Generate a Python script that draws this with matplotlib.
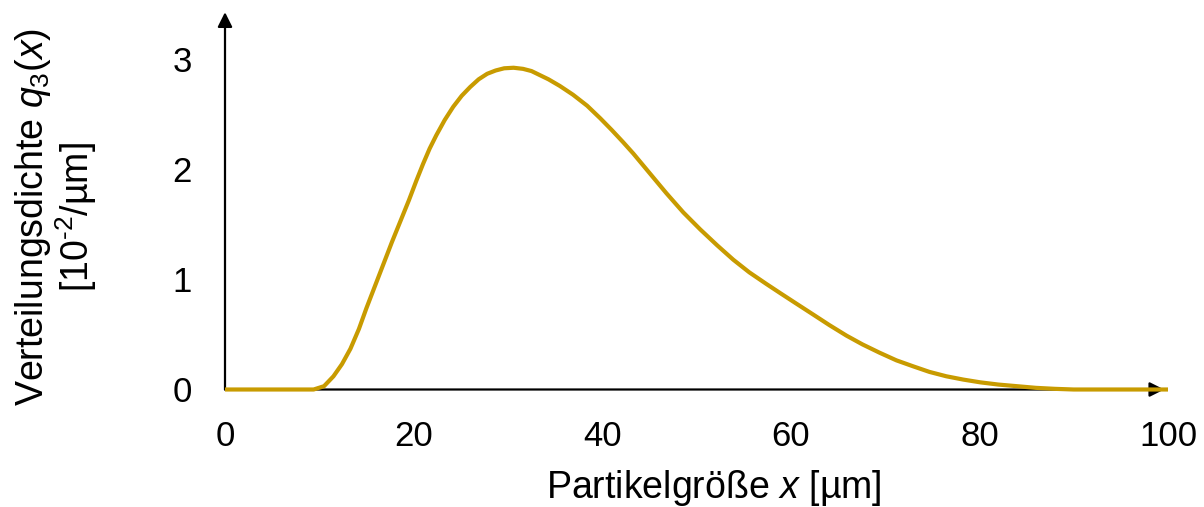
import matplotlib
matplotlib.use("Agg")
import matplotlib.pyplot as plt

# Werte
partikelgroesse = [0, 5, 9.4, 10.5, 11.5, 12.4, 13.3, 14.2, 15.0, 15.9, 16.8, 17.7,
                   18.6, 19.5, 20.3, 21.0, 21.7, 22.4, 23.3, 24.2, 25.1, 26.0,
                   26.9, 27.8, 28.7, 29.6, 30.6, 31.6, 32.5, 33.1, 34.3, 35.5,
                   36.9, 38.4, 39.8, 41.0, 42.2, 43.3, 45.0, 46.8, 48.6, 50.4,
                   52.2, 53.9, 55.6, 57.4, 58.9, 60.6, 62.4, 64.1, 65.9, 67.6,
                   69.4, 71.2, 73.0, 74.7, 76.5, 78.3, 80.1, 82.0, 84.0, 86.0,
                   88.0, 90.0, 95.0, 100]
dichte = [0, 0, 0, 0.03, 0.12, 0.23, 0.37, 0.55, 0.74, 0.94, 1.14, 1.34,
          1.53, 1.72, 1.90, 2.05, 2.19, 2.31, 2.45, 2.57, 2.67, 2.75,
          2.82, 2.87, 2.90, 2.92, 2.925, 2.915, 2.895, 2.87, 2.82, 2.76,
          2.68, 2.58, 2.465, 2.36, 2.25, 2.145, 1.97, 1.785, 1.61, 1.455,
          1.31, 1.18, 1.065, 0.96, 0.875, 0.78, 0.68, 0.585, 0.49, 0.41,
          0.335, 0.265, 0.21, 0.16, 0.12, 0.09, 0.065, 0.045, 0.03, 0.015,
          0.006, 0, 0, 0]

x_ticks = [0, 20, 40, 60, 80, 100]
y_ticks = [0, 1, 2, 3]

plt.rcParams['font.family'] = ['Liberation Sans', 'DejaVu Sans']
plt.rcParams['mathtext.fontset'] = 'custom'
plt.rcParams['mathtext.rm'] = 'Liberation Sans'
plt.rcParams['mathtext.it'] = 'Liberation Sans:italic'

W, H = 1204, 507
fig = plt.figure(figsize=(W / 100, H / 100), dpi=100)
ax = fig.add_axes([225 / W, 117.5 / H, 943 / W, 385 / H])
ax.set_xlim(0, 100)
ax.set_ylim(0, 3.5)

for s in ax.spines.values():
    s.set_visible(False)

# Achsen mit Pfeilen
pfeil = dict(arrowstyle='-|>', color='black', lw=1.6,
             mutation_scale=22, shrinkA=0, shrinkB=0)
ax.annotate('', xy=(99.6, 0), xytext=(0, 0), arrowprops=pfeil,
            annotation_clip=False)
ax.annotate('', xy=(0, 3.43), xytext=(0, 0), arrowprops=pfeil,
            annotation_clip=False)

ax.plot(partikelgroesse, dichte, color='#C89B00', lw=3, zorder=5,
        solid_capstyle='butt', solid_joinstyle='round', clip_on=False)

ax.set_xticks(x_ticks)
ax.set_yticks(y_ticks)
ax.tick_params(axis='both', length=0, labelsize=25)
ax.tick_params(axis='x', pad=22)
ax.tick_params(axis='y', pad=24)

fig.text(714 / W, 1 - 488 / H, 'Partikelgröße $x$ [µm]', fontsize=27,
         ha='center', va='center')
fig.text(33 / W, 1 - 217 / H, 'Verteilungsdichte $q_3$($x$)', fontsize=27,
         rotation=90, ha='center', va='center')
fig.text(76 / W, 1 - 217 / H, r'[10$^{\text{-2}}$/µm]', fontsize=27,
         rotation=90, ha='center', va='center')

fig.savefig('out.png', dpi=100)
